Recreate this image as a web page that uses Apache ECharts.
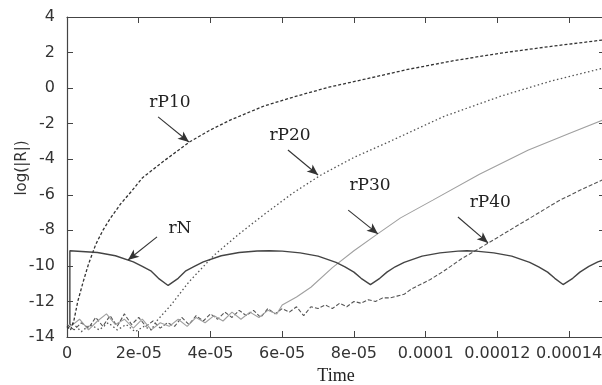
<!DOCTYPE html>
<html>
<head>
<meta charset="utf-8">
<script src="https://cdn.jsdelivr.net/npm/echarts@6/dist/echarts.min.js"></script>
<style>html,body{margin:0;padding:0;background:#fff;}#c{width:602px;height:385px;}</style>
</head>
<body>
<div id="c"></div>
<script>
// time values are in units of 1e-5 s
var TIME_UNIT = 1e-5;
var xTickValues = [0, 2, 4, 6, 8, 10, 12, 14];
var xTickLabels = ['0', '2e-05', '4e-05', '6e-05', '8e-05', '0.0001', '0.00012', '0.00014'];
var yTickLabels = ['4', '2', '0', '-2', '-4', '-6', '-8', '-10', '-12', '-14'];

var rP10_t = [0.0, 0.1, 0.2, 0.3, 0.45, 0.6, 0.8, 1.0, 1.2, 1.5, 1.8, 2.1, 2.7, 3.4, 4.0, 4.55, 5.5, 6.4, 7.3, 8.3, 9.5, 10.8, 12.1, 13.5, 15.0];
var rP10_v = [-13.4, -13.6, -13.0, -12.0, -10.9, -9.9, -8.8, -8.0, -7.35, -6.5, -5.8, -5.05, -4.1, -3.05, -2.35, -1.8, -1.0, -0.45, 0.05, 0.5, 1.05, 1.55, 1.97, 2.35, 2.72];

var rP20_t = [0.0, 0.15, 0.4, 0.65, 0.9, 1.15, 1.4, 1.65, 1.9, 2.15, 2.35, 2.5, 2.9, 3.4, 4.1, 4.8, 5.5, 6.3, 7.07, 8.0, 9.0, 10.5, 12.1, 13.5, 15.0];
var rP20_v = [-13.5, -13.2, -13.7, -13.3, -13.6, -13.2, -13.6, -13.3, -13.7, -13.4, -13.6, -13.1, -12.2, -10.9, -9.4, -8.2, -7.1, -5.9, -4.9, -3.9, -3.0, -1.6, -0.45, 0.4, 1.15];

var rP30_t = [0.1, 0.35, 0.6, 0.85, 1.1, 1.35, 1.6, 1.85, 2.1, 2.35, 2.6, 2.85, 3.1, 3.35, 3.6, 3.85, 4.1, 4.35, 4.6, 4.85, 5.1, 5.35, 5.6, 5.85, 6.0, 6.4, 6.8, 7.4, 8.0, 8.66, 9.3, 10.2, 11.5, 12.85, 14.0, 15.0];
var rP30_v = [-13.4, -13.0, -13.6, -13.1, -12.7, -13.3, -13.0, -13.5, -13.0, -13.6, -13.2, -13.4, -13.0, -13.4, -12.9, -13.2, -12.8, -13.1, -12.6, -13.0, -12.6, -12.9, -12.5, -12.7, -12.2, -11.75, -11.2, -10.1, -9.15, -8.2, -7.3, -6.3, -4.85, -3.5, -2.55, -1.75];

var rP40_t = [0.0, 0.2, 0.4, 0.6, 0.8, 1.0, 1.2, 1.4, 1.6, 1.8, 2.0, 2.2, 2.4, 2.6, 2.8, 3.0, 3.2, 3.4, 3.6, 3.8, 4.0, 4.2, 4.4, 4.6, 4.8, 5.0, 5.2, 5.4, 5.6, 5.8, 6.0, 6.2, 6.4, 6.6, 6.8, 7.0, 7.2, 7.4, 7.6, 7.8, 8.0, 8.2, 8.4, 8.6, 8.8, 9.0, 9.2, 9.4, 9.6, 10.1, 10.5, 11.0, 11.76, 12.5, 13.0, 13.7, 14.3, 15.0];
var rP40_v = [-13.3, -13.6, -13.2, -13.5, -12.9, -13.4, -12.8, -13.4, -12.7, -13.3, -12.9, -13.4, -13.1, -13.5, -13.2, -13.4, -12.9, -13.3, -12.8, -13.1, -12.7, -13.0, -12.6, -12.9, -12.5, -12.8, -12.5, -12.9, -12.4, -12.7, -12.4, -12.6, -12.3, -12.8, -12.3, -12.4, -12.2, -12.4, -12.1, -12.3, -12.0, -12.1, -11.9, -12.0, -11.8, -11.8, -11.7, -11.6, -11.3, -10.8, -10.3, -9.6, -8.7, -7.8, -7.2, -6.35, -5.75, -5.1];

var rN_t = [0.08, 0.08, 0.85, 1.35, 1.85, 2.1, 2.35, 2.55, 2.82, 3.1, 3.3, 3.55, 3.8, 4.3, 4.8, 5.3, 5.64, 6.0, 6.5, 7.0, 7.5, 7.75, 8.0, 8.2, 8.46, 8.72, 8.92, 9.15, 9.4, 9.9, 10.4, 10.9, 11.15, 11.4, 11.9, 12.4, 12.9, 13.15, 13.4, 13.6, 13.83, 14.1, 14.3, 14.55, 14.8, 15.3];
var rN_v = [-13.3, -9.15, -9.25, -9.43, -9.77, -10.03, -10.3, -10.7, -11.1, -10.7, -10.3, -10.03, -9.77, -9.43, -9.25, -9.16, -9.15, -9.17, -9.27, -9.45, -9.8, -10.05, -10.35, -10.7, -11.05, -10.7, -10.35, -10.05, -9.8, -9.45, -9.27, -9.17, -9.15, -9.17, -9.27, -9.45, -9.8, -10.05, -10.35, -10.7, -11.05, -10.7, -10.35, -10.03, -9.77, -9.43];

// annotation labels and arrows (data units)
var annLabels = ['rP10', 'rN', 'rP20', 'rP30', 'rP40'];
var annLabelT = [2.87, 3.15, 6.22, 8.45, 11.8];
var annLabelV = [-0.84, -7.92, -2.69, -5.51, -6.46];
var annFromT = [2.54, 2.51, 6.16, 7.84, 10.9];
var annFromV = [-1.62, -8.37, -3.48, -6.86, -7.25];
var annToT = [3.40, 1.70, 7.0, 8.67, 11.74];
var annToV = [-3.03, -9.67, -4.89, -8.2, -8.71];

function pairs(ts, vs) {
  return ts.map(function (t, i) { return [t * TIME_UNIT, vs[i]]; });
}

var chart = echarts.init(document.getElementById('c'), null, {renderer: 'canvas'});

var axisCol = '#444';
var txtCol = '#333';

function xBase() {
  return {
    type: 'value', min: 0, max: 15 * TIME_UNIT, interval: 2 * TIME_UNIT,
    splitLine: {show: false},
    axisLine: {show: true, onZero: false, lineStyle: {color: axisCol, width: 1.2}},
    axisTick: {show: true, inside: true, length: 6, lineStyle: {color: axisCol},
      customValues: xTickValues.map(function (v) { return v * TIME_UNIT; })}
  };
}
function yBase() {
  return {
    type: 'value', min: -14, max: 4, interval: 2,
    splitLine: {show: false},
    axisLine: {show: true, onZero: false, lineStyle: {color: axisCol, width: 1.2}},
    axisTick: {show: true, inside: true, length: 6, lineStyle: {color: axisCol}}
  };
}

var option = {
  animation: false,
  backgroundColor: '#fff',
  grid: {left: 67, top: 17, width: 538, height: 320, containLabel: false, outerBoundsMode: 'none'},
  xAxis: [
    Object.assign(xBase(), {
      position: 'bottom',
      axisLabel: {
        show: true, color: txtCol, fontFamily: 'DejaVu Sans', fontSize: 16, margin: 9,
        hideOverlap: false,
        customValues: xTickValues.map(function (v) { return v * TIME_UNIT; }),
        formatter: function (val) {
          var idx = Math.round(val / (2 * TIME_UNIT));
          return xTickLabels[idx] !== undefined ? xTickLabels[idx] : '';
        }
      },
      name: 'Time', nameLocation: 'middle', nameGap: 29,
      nameTextStyle: {fontFamily: 'Liberation Serif', fontSize: 18, color: '#222'}
    }),
    Object.assign(xBase(), {position: 'top', axisLabel: {show: false}})
  ],
  yAxis: [
    Object.assign(yBase(), {
      position: 'left',
      axisLabel: {
        show: true, color: txtCol, fontFamily: 'DejaVu Sans', fontSize: 16, margin: 12,
        formatter: function (val) {
          var idx = Math.round((4 - val) / 2);
          return yTickLabels[idx] !== undefined ? yTickLabels[idx] : '';
        }
      }
    }),
    Object.assign(yBase(), {position: 'right', axisLabel: {show: false}})
  ],
  graphic: [{
    type: 'text', x: 22, y: 168, rotation: Math.PI / 2,
    style: {text: 'log(|R|)', fill: txtCol, font: '15px "DejaVu Sans"', textAlign: 'center', textVerticalAlign: 'middle'}
  }],
  series: [
    {
      name: 'rP40', type: 'line', showSymbol: false, symbol: 'none', clip: true,
      data: pairs(rP40_t, rP40_v),
      lineStyle: {color: '#555', width: 1.1, type: [4, 2]}
    },
    {
      name: 'rP30', type: 'line', showSymbol: false, symbol: 'none', clip: true,
      data: pairs(rP30_t, rP30_v),
      lineStyle: {color: '#a0a0a0', width: 1.1}
    },
    {
      name: 'rP20', type: 'line', showSymbol: false, symbol: 'none', clip: true,
      data: pairs(rP20_t, rP20_v),
      lineStyle: {color: '#555', width: 1.3, type: [1.5, 2.5]}
    },
    {
      name: 'rP10', type: 'line', showSymbol: false, symbol: 'none', clip: true,
      data: pairs(rP10_t, rP10_v),
      lineStyle: {color: '#333', width: 1.3, type: [3, 2]}
    },
    {
      name: 'rN', type: 'line', showSymbol: false, symbol: 'none', clip: true,
      data: pairs(rN_t, rN_v),
      lineStyle: {color: '#444', width: 1.4}
    },
    {
      name: 'annotations', type: 'scatter', data: [], silent: true,
      markLine: {
        silent: true, animation: false,
        symbol: ['none', 'arrow'], symbolSize: [7, 11],
        lineStyle: {color: '#333', width: 1.1, type: 'solid'},
        label: {show: false},
        data: annLabels.map(function (l, i) {
          return [{coord: [annFromT[i] * TIME_UNIT, annFromV[i]]}, {coord: [annToT[i] * TIME_UNIT, annToV[i]]}];
        })
      },
      markPoint: {
        silent: true, animation: false,
        symbol: 'circle', symbolSize: 0,
        label: {show: true, position: 'inside', color: '#222', fontFamily: 'DejaVu Serif', fontSize: 17},
        data: annLabels.map(function (l, i) {
          return {coord: [annLabelT[i] * TIME_UNIT, annLabelV[i]], value: l, label: {formatter: l}};
        })
      }
    }
  ]
};

chart.setOption(option);
</script>
</body>
</html>
